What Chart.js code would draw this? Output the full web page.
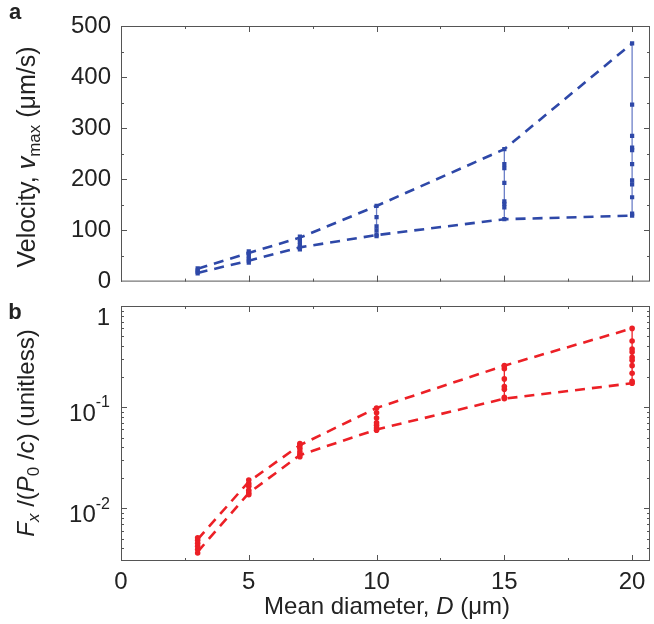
<!DOCTYPE html>
<html>
<head>
<meta charset="utf-8">
<script src="https://cdn.jsdelivr.net/npm/chart.js@4.4.1/dist/chart.umd.min.js"></script>
<style>
  body { margin: 0; background: #fff; }
  #wrap { position: relative; width: 654px; height: 624px; font-family: "Liberation Sans", Arial, sans-serif; color: #222; }
  #wrap canvas { position: absolute; left: 0; }
  .lbl { position: absolute; white-space: nowrap; font-size: 24px; transform: translate(-50%, -50%); }
  .rot { transform: translate(-50%, -50%) rotate(-90deg); }
  .lbl sub { font-size: 17px; vertical-align: -5px; line-height: 0; }
  .panel { font-weight: bold; font-size: 22px; }
</style>
</head>
<body>
<div id="wrap">
  <canvas id="chartA" width="654" height="306" style="top:0"></canvas>
  <canvas id="chartB" width="654" height="330" style="top:294px"></canvas>
  <div class="lbl panel" style="left:15px; top:12px">a</div>
  <div class="lbl panel" style="left:15px; top:312px">b</div>
  <div class="lbl rot" style="left:26px; top:157px; font-size:25px">Velocity, <i>v</i><sub>max</sub> (μm/s)</div>
  <div class="lbl rot" style="left:26px; top:433px"><i>F</i><sub><i>x</i></sub> /(<i>P</i><sub>0</sub> /<i>c</i>) (unitless)</div>
  <div class="lbl" style="left:387px; top:606px">Mean diameter, <i>D</i> (μm)</div>
</div>
<script>
/*=============== DATA ===============*/

// mean diameters (µm)
const diameters = [3, 5, 7, 10, 15, 20];
const xTicks = [0, 5, 10, 15, 20];

// panel a: max velocity (µm/s)
const velUpper = [25, 56, 86, 148, 259, 466];
const velLower = [17, 41, 67, 91, 122, 129];
const velPoints = [
  [16, 19, 22, 26],
  [37, 41, 45, 50, 55, 59],
  [63, 67, 72, 78, 83, 88],
  [89, 92, 100, 108, 126, 148],
  [122, 145, 152, 157, 193, 222, 230, 259],
  [129, 133, 165, 190, 198, 230, 257, 262, 285, 346, 466]
];
const velTicks = [0, 100, 200, 300, 400, 500];

// panel b: normalised force Fx/(P0/c)
const forceUpper = [0.0049, 0.0183, 0.042, 0.098, 0.257, 0.60];
const forceLower = [0.0037, 0.0141, 0.0335, 0.060, 0.121, 0.172];
const forcePoints = [
  [0.0036, 0.0039, 0.0042, 0.0045, 0.0048, 0.0051],
  [0.0136, 0.0142, 0.015, 0.0165, 0.0175, 0.019],
  [0.0323, 0.034, 0.036, 0.039, 0.042, 0.0436],
  [0.059, 0.062, 0.066, 0.070, 0.078, 0.088, 0.098],
  [0.121, 0.125, 0.15, 0.16, 0.19, 0.24, 0.257],
  [0.172, 0.18, 0.216, 0.257, 0.29, 0.31, 0.35, 0.375, 0.45, 0.60]
];
const forceTicks = [0.01, 0.1, 1];

/*=============== HELPERS ===============*/

const BLUE = 'rgb(46, 72, 168)';
const BLUE_THIN = 'rgba(70, 95, 185, 0.8)';
const RED = 'rgb(236, 32, 38)';
const FONT = '"Liberation Sans", Arial, sans-serif';

function pairs(xs, ys) {
  return xs.map((x, i) => ({ x: x, y: ys[i] }));
}

function buildDatasets(upper, lower, groups, color, thinColor, style) {
  const sets = [];
  const dashed = { showLine: true, borderColor: color, borderWidth: 2.6, borderDash: [10, 7], pointRadius: 0, fill: false };
  sets.push(Object.assign({ data: pairs(diameters, upper) }, dashed));
  sets.push(Object.assign({ data: pairs(diameters, lower) }, dashed));
  groups.forEach((vals, i) => {
    sets.push({
      data: vals.map(v => ({ x: diameters[i], y: v })),
      showLine: true,
      borderColor: thinColor,
      borderWidth: 1.3,
      pointStyle: style,
      pointRadius: style === 'rect' ? 3 : 2.8,
      pointBackgroundColor: color,
      pointBorderColor: color,
      pointBorderWidth: 0
    });
  });
  return sets;
}

// MATLAB-like box with inward ticks on all four sides
const boxPlugin = {
  id: 'boxTicks',
  afterDraw(chart, args, opts) {
    const ctx = chart.ctx;
    const a = chart.chartArea;
    const xs = chart.scales.x, ys = chart.scales.y;
    ctx.save();
    ctx.strokeStyle = '#555';
    ctx.lineWidth = 1;
    ctx.strokeRect(a.left + 0.5, a.top + 0.5, a.right - a.left - 1, a.bottom - a.top - 1);

    const tickX = (v, len) => {
      const p = Math.round(xs.getPixelForValue(v)) + 0.5;
      ctx.beginPath();
      ctx.moveTo(p, a.bottom); ctx.lineTo(p, a.bottom - len);
      ctx.moveTo(p, a.top); ctx.lineTo(p, a.top + len);
      ctx.stroke();
    };
    const tickY = (v, len) => {
      const p = Math.round(ys.getPixelForValue(v)) + 0.5;
      if (p < a.top || p > a.bottom) return;
      ctx.beginPath();
      ctx.moveTo(a.left, p); ctx.lineTo(a.left + len, p);
      ctx.moveTo(a.right, p); ctx.lineTo(a.right - len, p);
      ctx.stroke();
    };

    for (let v = 0; v <= xs.max; v += opts.xMinor) tickX(v, 3);
    xTicks.forEach(v => tickX(v, 6));

    if (opts.log) {
      for (let d = 0.001; d < 1; d *= 10) {
        for (let m = 2; m <= 9; m++) tickY(d * m, 3);
      }
      forceTicks.forEach(v => tickY(v, 6));
    } else {
      for (let v = 0; v <= ys.max; v += opts.yMinor) tickY(v, 3);
      velTicks.forEach(v => tickY(v, 6));
    }
    ctx.restore();
  }
};

// tick labels of the log axis: 1, 10^-1, 10^-2
const logLabelPlugin = {
  id: 'logLabels',
  afterDraw(chart) {
    const ctx = chart.ctx;
    const ys = chart.scales.y;
    const right = chart.chartArea.left - 11;
    ctx.save();
    ctx.fillStyle = '#222';
    ctx.textAlign = 'right';
    ctx.textBaseline = 'middle';
    forceTicks.forEach(v => {
      const p = ys.getPixelForValue(v);
      const exp = Math.round(Math.log10(v));
      if (exp === 0) {
        ctx.font = '24px ' + FONT;
        ctx.fillText('1', right, Math.max(p + 4, chart.chartArea.top + 12));
        return;
      }
      const sup = String(exp);
      ctx.font = '16px ' + FONT;
      const w = ctx.measureText(sup).width;
      ctx.fillText(sup, right, p - 4);
      ctx.font = '24px ' + FONT;
      ctx.fillText('10', right - w, p + 7);
    });
    ctx.restore();
  }
};

/*=============== CHARTS ===============*/

const xScale = (showLabels, height) => ({
  type: 'linear',
  min: 0,
  max: 20.7,
  afterBuildTicks: s => { s.ticks = xTicks.map(v => ({ value: v })); },
  afterFit: s => { s.height = height; },
  grid: { display: false, drawTicks: false },
  border: { display: false },
  ticks: { display: showLabels, padding: 7, color: '#222', font: { family: FONT, size: 24 } }
});

new Chart(document.getElementById('chartA'), {
  type: 'scatter',
  data: { datasets: buildDatasets(velUpper, velLower, velPoints, BLUE, BLUE_THIN, 'rect') },
  options: {
    responsive: false,
    animation: false,
    layout: { padding: { top: 26, right: 1 } },
    plugins: { legend: { display: false }, tooltip: { enabled: false }, boxTicks: { xMinor: 2.5, yMinor: 50 } },
    scales: {
      x: xScale(false, 0),
      y: {
        min: 0,
        max: 500,
        afterBuildTicks: s => { s.ticks = velTicks.map(v => ({ value: v })); },
        afterFit: s => { s.width = 121; },
        grid: { display: false, drawTicks: false },
        border: { display: false },
        ticks: { padding: 10, color: '#222', font: { family: FONT, size: 24 } }
      }
    }
  },
  plugins: [boxPlugin]
});

new Chart(document.getElementById('chartB'), {
  type: 'scatter',
  data: { datasets: buildDatasets(forceUpper, forceLower, forcePoints, RED, RED, 'circle') },
  options: {
    responsive: false,
    animation: false,
    layout: { padding: { top: 12, right: 1 } },
    plugins: { legend: { display: false }, tooltip: { enabled: false }, boxTicks: { xMinor: 2.5, log: true } },
    scales: {
      x: xScale(true, 63),
      y: {
        type: 'logarithmic',
        min: 0.003,
        max: 1,
        afterBuildTicks: s => { s.ticks = forceTicks.map(v => ({ value: v })); },
        afterFit: s => { s.width = 121; },
        grid: { display: false, drawTicks: false },
        border: { display: false },
        ticks: { display: false }
      }
    }
  },
  plugins: [boxPlugin, logLabelPlugin]
});
</script>
</body>
</html>
